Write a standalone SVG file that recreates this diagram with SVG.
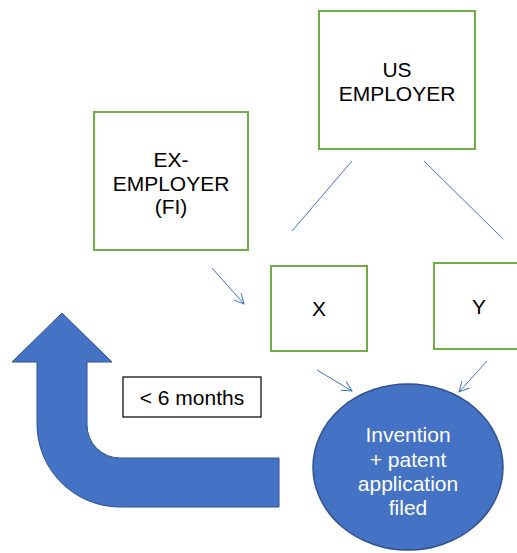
<svg xmlns="http://www.w3.org/2000/svg" width="517" height="553" viewBox="0 0 517 553">
<style>
.box{fill:#fff;stroke:#70AD47;stroke-width:2}
.t{font-family:"Liberation Sans",Arial,sans-serif;font-size:21px;fill:#000;text-anchor:middle}
.w{fill:#fff}
.c{stroke:#4472C4;stroke-width:1;fill:none}
</style>
<defs>
<marker id="ah" viewBox="0 0 12 12" refX="11" refY="6" markerWidth="12" markerHeight="12" markerUnits="userSpaceOnUse" orient="auto">
<path d="M1 1 L11 6 L1 11" fill="none" stroke="#4472C4" stroke-width="1"/>
</marker>
</defs>
<rect width="517" height="553" fill="#fff"/>
<g id="connectors">
<line class="c" x1="352" y1="161" x2="292" y2="231"/>
<line class="c" x1="424" y1="161" x2="502" y2="238"/>
<line class="c" x1="212" y1="268" x2="244" y2="304" marker-end="url(#ah)"/>
<line class="c" x1="317" y1="370" x2="352" y2="391" marker-end="url(#ah)"/>
<line class="c" x1="487" y1="361" x2="459" y2="392" marker-end="url(#ah)"/>
</g>
<g id="us-employer">
<rect class="box" x="319" y="11" width="156" height="138"/>
<text class="t" x="397" y="77">US</text>
<text class="t" x="397" y="101">EMPLOYER</text>
</g>
<g id="ex-employer">
<rect class="box" x="94" y="112" width="154" height="138"/>
<text class="t" x="171" y="167">EX-</text>
<text class="t" x="171" y="191">EMPLOYER</text>
<text class="t" x="171" y="214">(FI)</text>
</g>
<g id="x">
<rect class="box" x="271" y="266" width="96" height="85"/>
<text class="t" x="319" y="316">X</text>
</g>
<g id="y">
<rect class="box" x="434" y="263" width="90" height="86"/>
<text class="t" x="479" y="314">Y</text>
</g>
<g id="invention">
<ellipse cx="408" cy="467" rx="95" ry="83" fill="#4472C4" stroke="#2F528F" stroke-width="1.5"/>
<text class="t w" x="408" y="442">Invention</text>
<text class="t w" x="408" y="467">+ patent</text>
<text class="t w" x="408" y="491">application</text>
<text class="t w" x="408" y="515">filed</text>
</g>
<g id="bent-arrow">
<path d="M62 313 L112 362 L87 362 L87 425 A33 33 0 0 0 120 458 L279 458 L279 507 L120 507 A83 83 0 0 1 37 424 L37 362 L12 362 Z" fill="#4472C4" stroke="#2F528F" stroke-width="1"/>
</g>
<g id="months">
<rect x="123" y="377" width="138" height="40" fill="#fff" stroke="#000" stroke-width="1.2"/>
<text class="t" x="192" y="405">&lt; 6 months</text>
</g>
</svg>
